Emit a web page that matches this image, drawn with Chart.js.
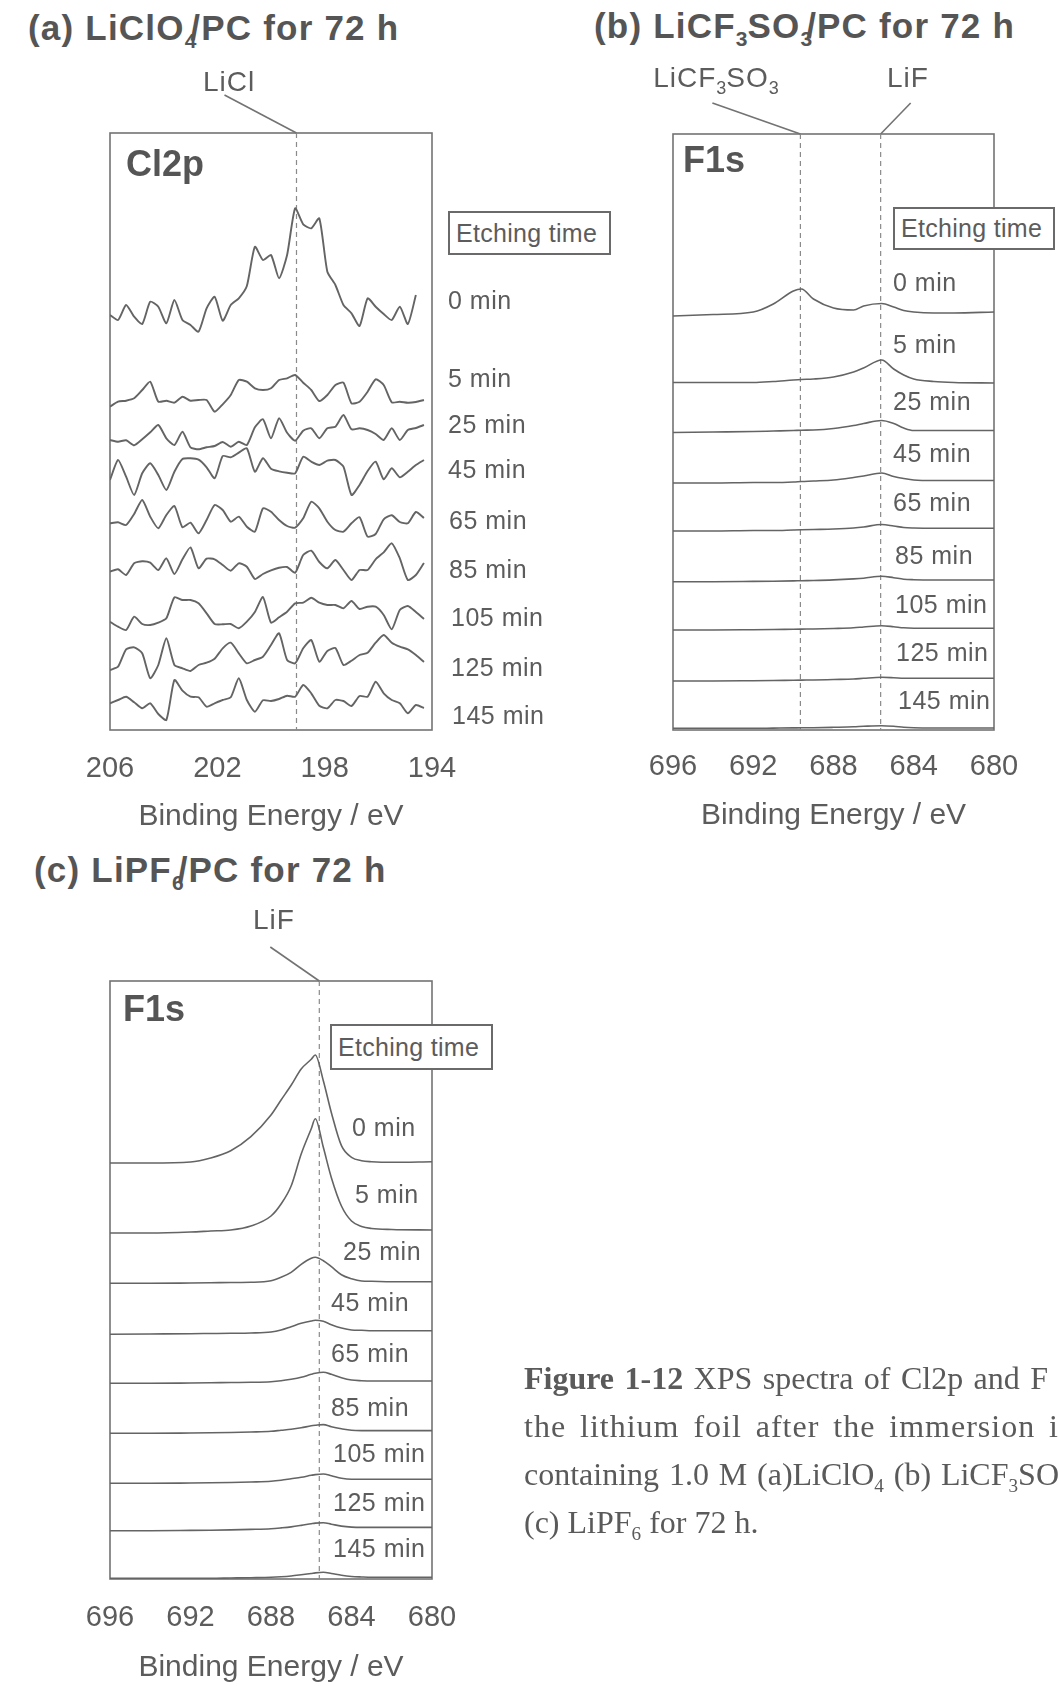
<!DOCTYPE html>
<html>
<head>
<meta charset="utf-8">
<script src="https://cdn.jsdelivr.net/npm/chart.js@4.4.1/dist/chart.umd.min.js"></script>
<style>
  html, body { margin: 0; padding: 0; background: #fff; }
  body { width: 1059px; height: 1686px; position: relative; overflow: hidden;
         font-family: "Liberation Sans", Arial, sans-serif; color: #5c5c5c; }
  .box { position: absolute; }
  .t { position: absolute; white-space: nowrap; line-height: 1; }
  .title { font-size: 35px; font-weight: bold; letter-spacing: 1.2px; color: #555; }
  .title sub { font-size: 21px; vertical-align: baseline; position: relative; top: 8px; letter-spacing: 0; }
  .peak { font-size: 28px; letter-spacing: 1px; transform: translateX(-50%); }
  .peak sub { font-size: 18px; vertical-align: baseline; position: relative; top: 7px; letter-spacing: 0; }
  .core { font-size: 36px; font-weight: bold; color: #555; }
  .etch { position: absolute; box-sizing: border-box; border: 2px solid #6a6a6a; background: #fff;
          font-size: 25px; letter-spacing: 0.3px; padding-left: 6px; white-space: nowrap; }
  .tm { font-size: 25px; letter-spacing: 0.5px; }
  .cap { position: absolute; left: 524px; top: 1354px; font-family: "Liberation Serif", "Times New Roman", serif;
         font-size: 32px; line-height: 48px; color: #5a5a5a; }
  .cap div { white-space: nowrap; }
  .cap .j { text-align: justify; text-align-last: justify; white-space: normal; }
  .cap sub { font-size: 60%; vertical-align: baseline; position: relative; top: 0.35em; line-height: 0; }
</style>
</head>
<body>

<div class="t title" style="left:28px;top:10px">(a) LiClO<sub style="margin-right:-6px">4</sub>/PC for 72 h</div>
<div class="t title" style="left:594px;top:8px">(b) LiCF<sub>3</sub>SO<sub style="margin-right:-6px">3</sub>/PC for 72 h</div>
<div class="t title" style="left:34px;top:852px">(c) LiPF<sub style="margin-right:-6px">6</sub>/PC for 72 h</div>

<div class="box" style="left:0;top:0;width:540px;height:835px"><canvas id="chartA" width="540" height="835"></canvas></div>
<div class="box" style="left:560px;top:0;width:499px;height:834px"><canvas id="chartB" width="499" height="834"></canvas></div>
<div class="box" style="left:0;top:850px;width:540px;height:836px"><canvas id="chartC" width="540" height="836"></canvas></div>

<div class="t peak" style="left:229px;top:68px">LiCl</div>
<div class="t peak" style="left:716px;top:64px">LiCF<sub>3</sub>SO<sub>3</sub></div>
<div class="t peak" style="left:908px;top:64px">LiF</div>
<div class="t peak" style="left:274px;top:906px">LiF</div>

<div class="t core" style="left:126px;top:146px">Cl2p</div>
<div class="t core" style="left:683px;top:142px">F1s</div>
<div class="t core" style="left:123px;top:991px">F1s</div>

<div class="etch" style="left:448px;top:211px;width:163px;height:44px;line-height:40px">Etching time</div>
<div class="etch" style="left:893px;top:207px;width:162px;height:43px;line-height:39px">Etching time</div>
<div class="etch" style="left:330px;top:1024px;width:163px;height:46px;line-height:42px">Etching time</div>

<div class="cap">
  <div class="j" style="width:524px"><b>Figure 1-12</b> XPS spectra of Cl2p and F</div>
  <div class="j" style="width:535px;letter-spacing:1px">the lithium foil after the immersion i</div>
  <div class="j" style="width:535px">containing 1.0 M (a)LiClO<sub>4</sub> (b) LiCF<sub>3</sub>SO</div>
  <div>(c) LiPF<sub>6</sub> for 72 h.</div>
</div>

<script>
/* XPS depth profiles — stacked spectra, one trace per etching time.
   Intensities (arbitrary units), offsets stack them. */

const etchTimes = ['0 min', '5 min', '25 min', '45 min', '65 min', '85 min', '105 min', '125 min', '145 min'];

/* (a) Cl2p, LiClO4/PC */
const clEnergy = [206, 205.7, 205.4, 205.1, 204.8, 204.5, 204.2, 203.9, 203.6, 203.3,
                  203, 202.7, 202.4, 202.1, 201.8, 201.5, 201.2, 200.9, 200.6, 200.3,
                  200, 199.7, 199.4, 199.1, 198.8, 198.5, 198.2, 197.9, 197.6, 197.3,
                  197, 196.7, 196.4, 196.1, 195.8, 195.5, 195.2, 194.9, 194.6, 194.3];
const clTicks = [206, 202, 198, 194];
const clPeaks = [199.05];   // LiCl
const clOffsets = [405, 320, 280, 235, 195, 148, 100, 58, 10];
const clCounts = [
  [10, 5, 20, 8.3, 1, 23.3, 18.3, 1.7, 25, 5, 0, -6.7, 16.7, 28.3, 4.3, 20, 26.7, 39, 78.3, 65,
   70, 46.7, 70, 116.7, 100.7, 96.7, 106.7, 53.3, 40, 20, 11.7, -1, 26.7, 18.3, 11, 5, 18.3, 1, 30],
  [3.3, 8.3, 9.3, 11.7, 20, 28.3, 8.3, 9.3, 7.3, 13.3, 9.3, 10, 10, -1.7, 5.7, 15, 30, 28.3, 21.7, 20,
   21.7, 30, 31.7, 35, 27.3, 20, 9, 15, 25, 27.3, 6.7, 8.3, 18.3, 30.7, 25, 7.7, 8.3, 7.3, 8, 10],
  [10, 8.3, 9.7, 4.7, 10.7, 17.7, 25, 11.7, 5, 18.3, 2.7, 0.7, 2.7, 4, 8, 3.3, 8.3, 5, 22.7, 30.7,
   11.7, 31.7, 17.3, 9.3, 19.3, 21.7, 11.7, 21.7, 23.3, 35, 20.7, 21.7, 20, 16, 10, 21.7, 10, 20, 22, 25],
  [15, 35, 18.3, 0, 21.7, 31.7, 20, 5, 23.3, 36, 36.7, 35.3, 27.7, 16.7, 39, 37.7, 42.3, 46.7, 23.3, 36.7,
   26.3, 23.7, 22.3, 21.7, 38.3, 33.3, 30, 34.3, 35, 28.3, 0, 10, 24, 33.3, 15.7, 26.7, 17.7, 23.3, 30, 35],
  [11.7, 12.7, 10, 21, 35, 18.3, 6.7, 20, 29, 7.7, 12.3, 1.7, 15, 30, 25, 13.3, 18.3, 8.3, 3.3, 26.7,
   23.3, 15, 9, 7.3, 16.7, 33.3, 26.7, 13.3, 5, 3.3, 11.7, 17.7, -1.7, 1, 15.7, 19.7, 13, 11.7, 23, 17],
  [10.3, 12.7, 7, 18.7, 20.7, 19.3, 12, 23.7, 8, 22.7, 34.7, 13.7, 23.3, 22.7, 17, 11.3, 18.7, 15.3, 3, 8,
   11.7, 14.3, 15, 9.3, 27, 31.3, 20, 13.7, 22, 12, 2, 12, 12, 22.7, 29.7, 38.7, 23.7, 2, 7, 19],
  [8.3, 3.3, 0, 13.3, 6, 5, 7.3, 11.7, 32.7, 30, 30, 26.7, 16.7, 6, 5.7, 6, 1.7, 8.3, 18, 33,
   7.3, 12.7, 18.3, 26.7, 27.3, 32.3, 27.3, 25, 25, 21.7, 29, 21, 23.3, 23.3, 15, 0.7, 20, 24, 18, 11],
  [2, 5.3, 22.7, 24.7, 18.7, -6.3, 7, 33.7, 7, 3.7, 1, 7, 9.3, 13.3, 23.7, 29.3, 18.7, 8.7, 12, 15.3,
   27, 38.7, 12, 8.7, 23.7, 32, 10.3, 21, 24, 7, 11.3, 17, 19.3, 29.3, 37, 29.3, 25.3, 22.7, 17, 10],
  [16.7, 20, 23.3, 17.7, 11.7, 16.7, 6, 0, 40, 29.3, 23.3, 22.7, 13.3, 16.7, 20, 22.7, 41.7, 20, 8.3, 19.7,
   19, 21, 24.3, 23.3, 35, 26.7, 14.3, 11.7, 20, 19, 14, 24, 23.3, 38.3, 26.7, 20, 16.7, 6.7, 15, 12]
];

/* (b) F1s, LiCF3SO3/PC */
const fbEnergy = [696, 694, 692, 691, 690, 689.6, 689, 688, 687, 686.5, 685.6, 685, 684.5, 684, 683, 682, 680];
const fbTicks = [696, 692, 688, 684, 680];
const fbPeaks = [689.65, 685.65];   // LiCF3SO3, LiF
const fbOffsets = [415, 347.5, 297.5, 247, 199, 148.3, 100, 49, 1.7];
const fbCounts = [
  [-1, 0.5, 3, 11, 24, 26, 16, 7, 5, 9, 11.5, 8, 4.5, 3, 2, 2, 3],
  [0, 0, 0, 1, 2.5, 3, 3.5, 5.5, 10.5, 14.5, 22.5, 13.5, 7.5, 3.5, 1, 0, -0.5],
  [0, 0.5, 1, 1.5, 2, 2.3, 2.5, 4, 7, 9, 12, 9, 4.5, 2, 2, 2, 2],
  [0, 0, 0.5, 0.5, 1, 1.5, 2, 3, 5.5, 7, 10, 6.5, 4.5, 3, 2.5, 2.5, 2.5],
  [0, 0, 0.5, 0.5, 1, 1.2, 1.5, 2, 3, 4, 6.5, 5, 3.5, 3, 2.7, 2.7, 2.7],
  [0, 0, 0.3, 0.5, 0.8, 1, 1.2, 1.8, 2.8, 3.5, 5.5, 4, 2.5, 2, 1.7, 1.7, 1.7],
  [0, 0, 0.3, 0.5, 0.8, 0.9, 1, 1.5, 2.2, 3, 4.3, 3.3, 2.2, 1.8, 1.7, 1.7, 1.7],
  [0, 0, 0.3, 0.5, 0.8, 0.9, 1, 1.5, 2, 2.7, 3.7, 3.3, 2.8, 2.7, 2.7, 2.7, 2.7],
  [0, 0, 0, 0.2, 0.4, 0.5, 0.6, 1, 1.5, 2, 2.6, 2, 1, 0.5, 0.3, 0.3, 0.3]
];

/* (c) F1s, LiPF6/PC */
const fcEnergy = [696, 694, 692, 691, 690, 689, 688, 687.5, 687, 686.5, 686, 685.8, 685.4, 685, 684.5, 684, 683.5, 683, 682, 680];
const fcTicks = [696, 692, 688, 684, 680];
const fcPeaks = [685.6];   // LiF
const fcOffsets = [416, 346, 295.7, 244.7, 195.7, 145.7, 95.7, 48.3, 0.7];
const fcCounts = [
  [0, 0, 1, 5, 12.3, 26.3, 48, 63, 77.7, 94, 103.7, 108, 82.3, 50.3, 17.3, 5.7, 2.3, 1.3, 0.7, 1.3],
  [0, 0, 1, 2, 3, 7, 17, 29, 47, 79, 104.3, 114.3, 85.7, 55.3, 27, 12, 6.5, 4.5, 3.5, 3],
  [0, 0, 0.3, 0.5, 0.8, 1, 2.5, 6, 11, 19, 25, 26, 22.6, 16.6, 8.6, 4.6, 2.3, 2, 1.6, 1.6],
  [0, 0.3, 0.6, 0.8, 1, 1.3, 2.3, 4.3, 7.6, 11, 13.3, 14, 13, 9.6, 6.3, 4.3, 4, 3.6, 3.6, 3.6],
  [0, 0, 0.3, 0.5, 0.8, 1, 1.6, 2.5, 4, 6, 9, 10, 11, 9, 5.6, 3.3, 2.6, 2.3, 2.3, 2.3],
  [0, 0, 0.3, 0.5, 0.8, 1.3, 2, 3, 4, 5.5, 7.5, 8, 8.7, 6.5, 4.5, 3, 2.7, 2.7, 2.7, 2.7],
  [0, 0, 0.3, 0.5, 0.8, 1.3, 2, 3, 4.5, 6, 8, 8.7, 9.3, 7.5, 5, 4, 4, 4, 4, 4],
  [0, 0, 0.3, 0.5, 0.8, 1.3, 2, 2.8, 3.8, 5.3, 7, 7.6, 8, 6.5, 4.6, 3.6, 3.3, 3.3, 3.3, 3.3],
  [0, 0, 0, 0, 0.3, 0.6, 1, 1.5, 2.3, 3.5, 4.8, 5.4, 6, 4.8, 3, 1.8, 1.3, 1, 1, 1]
];

/* label placement (page px: left, cap-centre y) */
const labelPosA = [[448, 300], [448, 378], [448, 424], [448, 469], [449, 520], [449, 569], [451, 617], [451, 667], [452, 715]];
const labelPosB = [[893, 282], [893, 344], [893, 401], [893, 453], [893, 502], [895, 555], [895, 604], [896, 652], [898, 700]];
const labelPosC = [[352, 1127], [355, 1194], [343, 1251], [331, 1302], [331, 1353], [331, 1407], [333, 1453], [333, 1502], [333, 1548]];

const LINE = '#646464';
const FRAME = '#737373';
const DASH = '#8a8a8a';
Chart.defaults.font.family = '"Liberation Sans", Arial, sans-serif';
Chart.defaults.color = '#5c5c5c';

/* frame, dashed reference lines and label leaders */
function framePlugin(peaks, leaders) {
  return {
    id: 'frame',
    beforeDatasetsDraw(chart) {
      const { ctx, chartArea: a, scales: { x } } = chart;
      ctx.save();
      ctx.strokeStyle = FRAME;
      ctx.lineWidth = 1.6;
      ctx.strokeRect(a.left, a.top, a.right - a.left, a.bottom - a.top);
      ctx.setLineDash([5, 4]);
      ctx.lineWidth = 1.2;
      ctx.strokeStyle = DASH;
      peaks.forEach(e => {
        const px = x.getPixelForValue(e);
        ctx.beginPath(); ctx.moveTo(px, a.top); ctx.lineTo(px, a.bottom); ctx.stroke();
      });
      ctx.setLineDash([]);
      ctx.lineWidth = 1.6;
      ctx.strokeStyle = FRAME;
      leaders.forEach((d, i) => {
        const px = x.getPixelForValue(peaks[i]);
        ctx.beginPath(); ctx.moveTo(px + d[0], a.top + d[1]); ctx.lineTo(px, a.top); ctx.stroke();
      });
      ctx.restore();
    }
  };
}

function spectrumChart(id, energies, counts, offsets, ticks, peaks, o) {
  const datasets = counts.map((vals, i) => ({
    label: etchTimes[i],
    data: vals.map((v, j) => ({ x: energies[j], y: offsets[i] + v })),
    borderColor: LINE,
    borderWidth: o.lw,
    pointRadius: 0,
    fill: false,
    tension: o.tension,
    cubicInterpolationMode: o.mono ? 'monotone' : 'default'
  }));

  return new Chart(document.getElementById(id), {
    type: 'line',
    data: { datasets },
    options: {
      responsive: false,
      animation: false,
      devicePixelRatio: 1,
      layout: { padding: o.pad },
      plugins: { legend: { display: false }, tooltip: { enabled: false } },
      scales: {
        x: {
          type: 'linear',
          reverse: true,
          min: Math.min(...ticks),
          max: Math.max(...ticks),
          afterBuildTicks: s => { s.ticks = ticks.map(v => ({ value: v })); },
          afterFit: s => { s.height = o.axisH; },
          ticks: { font: { size: 29 }, padding: o.tickPad, maxRotation: 0, autoSkip: false, color: '#5c5c5c' },
          grid: { display: false, drawTicks: false },
          border: { display: false },
          title: { display: true, text: 'Binding Energy / eV', font: { size: 30 }, padding: 0, color: '#5c5c5c' }
        },
        y: { display: false, min: 0, max: o.ymax }
      }
    },
    plugins: [framePlugin(peaks, o.leaders)]
  });
}

spectrumChart('chartA', clEnergy, clCounts, clOffsets, clTicks, clPeaks, {
  lw: 1.9, tension: 0.2, mono: false,
  pad: { left: 110, top: 133, right: 108, bottom: 0 }, axisH: 105, tickPad: 22, ymax: 597,
  leaders: [[-72, -38]]
});
spectrumChart('chartB', fbEnergy, fbCounts, fbOffsets, fbTicks, fbPeaks, {
  lw: 1.6, tension: 0.4, mono: true,
  pad: { left: 113, top: 134, right: 65, bottom: 0 }, axisH: 104, tickPad: 20, ymax: 596,
  leaders: [[-88, -31], [30, -31]]
});
spectrumChart('chartC', fcEnergy, fcCounts, fcOffsets, fcTicks, fcPeaks, {
  lw: 1.6, tension: 0.4, mono: true,
  pad: { left: 110, top: 131, right: 108, bottom: 0 }, axisH: 107, tickPad: 22, ymax: 598,
  leaders: [[-49, -34]]
});

/* etching-time labels */
[labelPosA, labelPosB, labelPosC].forEach(pos => {
  pos.forEach((p, i) => {
    const d = document.createElement('div');
    d.className = 't tm';
    d.textContent = etchTimes[i];
    d.style.left = p[0] + 'px';
    d.style.top = (p[1] - 12) + 'px';
    document.body.appendChild(d);
  });
});
</script>
</body>
</html>
